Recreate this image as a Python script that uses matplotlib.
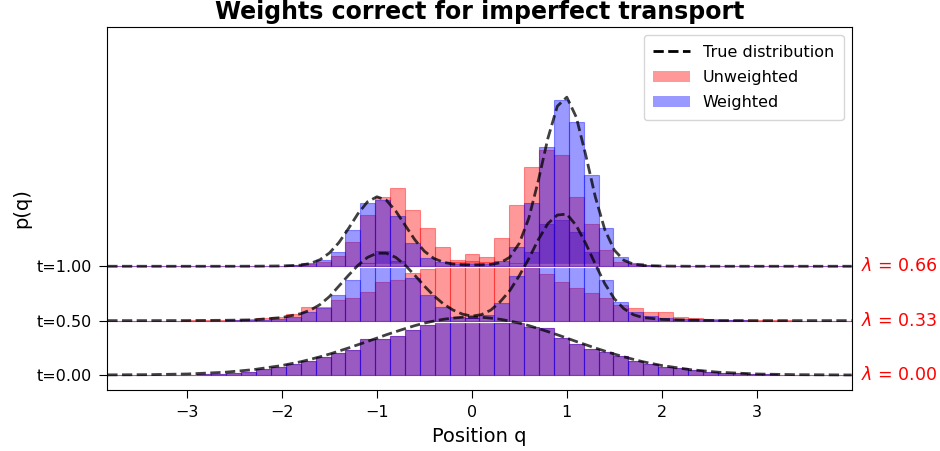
import numpy as np
import matplotlib
matplotlib.use("Agg")
import matplotlib.pyplot as plt
from matplotlib.lines import Line2D
from matplotlib.patches import Patch
from matplotlib.transforms import blended_transform_factory

# rows (offset on the y axis) and the lambda of each row
times = [0.0, 0.5, 1.0]
lambdas = [0.00, 0.33, 0.66]

# histogram bins shared by all rows
bin_lo, bin_hi, n_bins = -3.84, 4.0, 50

# bar heights, one value per bin
unweighted_t0 = [0.0005, 0.001, 0.0014, 0.0018, 0.003, 0.004, 0.006, 0.009, 0.016, 0.030,
                 0.051, 0.076, 0.104, 0.129, 0.161, 0.198, 0.230, 0.331, 0.331, 0.363,
                 0.414, 0.460, 0.488, 0.506, 0.524, 0.515, 0.481, 0.476, 0.439, 0.432,
                 0.338, 0.281, 0.236, 0.214, 0.175, 0.129, 0.097, 0.074, 0.063, 0.044,
                 0.030, 0.021, 0.016, 0.009, 0.006, 0.004, 0.002, 0.0014, 0.001, 0.0005]
weighted_t0 = list(unweighted_t0)

unweighted_t05 = [0, 0, 0, 0.0005, 0.001, 0.002, 0.003, 0.005, 0.009, 0.016,
                  0.026, 0.037, 0.060, 0.123, 0.123, 0.190, 0.212, 0.267, 0.359, 0.374,
                  0.442, 0.478, 0.497, 0.543, 0.552, 0.543, 0.497, 0.534, 0.488, 0.432,
                  0.359, 0.304, 0.258, 0.206, 0.144, 0.114, 0.080, 0.075, 0.034, 0.028,
                  0.014, 0.009, 0.006, 0.005, 0.003, 0.002, 0.001, 0.0005, 0, 0]
weighted_t05 = [0, 0, 0, 0, 0, 0, 0.0005, 0.001, 0.002, 0.005,
                0.009, 0.018, 0.032, 0.083, 0.114, 0.236, 0.374, 0.534, 0.644, 0.552,
                0.396, 0.239, 0.129, 0.037, 0.022, 0.052, 0.160, 0.414, 0.635, 0.892,
                0.929, 0.819, 0.635, 0.374, 0.175, 0.078, 0.046, 0.028, 0.018, 0.011,
                0.006, 0.003, 0.002, 0.001, 0, 0, 0, 0, 0, 0]

unweighted_t1 = [0, 0, 0, 0, 0, 0, 0, 0, 0, 0.001,
                 0.002, 0.004, 0.007, 0.018, 0.042, 0.092, 0.226, 0.469, 0.640, 0.718,
                 0.518, 0.352, 0.180, 0.060, 0.110, 0.086, 0.262, 0.564, 0.916, 1.070,
                 1.024, 0.640, 0.386, 0.150, 0.042, 0.018, 0.007, 0.004, 0.002, 0.001,
                 0, 0, 0, 0, 0, 0, 0, 0, 0, 0]
weighted_t1 = [0, 0, 0, 0, 0, 0, 0, 0, 0, 0,
               0.003, 0.006, 0.011, 0.028, 0.058, 0.129, 0.334, 0.580, 0.607, 0.460,
               0.212, 0.074, 0.042, 0.018, 0.018, 0.023, 0.046, 0.180, 0.580, 1.100,
               1.530, 1.330, 0.840, 0.350, 0.088, 0.028, 0.009, 0.005, 0.002, 0,
               0, 0, 0, 0, 0, 0, 0, 0, 0, 0]

# true distribution, read at these positions
q_true = [-3.84, -3.4, -3.0, -2.6, -2.3, -2.0, -1.8, -1.7, -1.6, -1.5, -1.4, -1.3, -1.2,
          -1.1, -1.0, -0.9, -0.8, -0.7, -0.6, -0.5, -0.4, -0.3, -0.2, -0.1, 0.0, 0.1,
          0.2, 0.3, 0.4, 0.5, 0.6, 0.7, 0.8, 0.9, 1.0, 1.1, 1.2, 1.3, 1.4, 1.5, 1.6,
          1.7, 1.8, 2.0, 2.3, 2.6, 3.0, 3.4, 4.0]
true_t0 = [0.001, 0.003, 0.009, 0.025, 0.049, 0.087, 0.122, 0.144, 0.167, 0.192, 0.220, 0.248, 0.278,
           0.308, 0.339, 0.370, 0.399, 0.427, 0.454, 0.477, 0.496, 0.512, 0.523, 0.531, 0.534, 0.531,
           0.523, 0.512, 0.496, 0.477, 0.454, 0.427, 0.399, 0.370, 0.339, 0.308, 0.278, 0.248, 0.220,
           0.192, 0.167, 0.144, 0.122, 0.087, 0.049, 0.025, 0.009, 0.003, 0.000]
true_t05 = [0.0, 0.0, 0.0005, 0.003, 0.007, 0.028, 0.064, 0.097, 0.147, 0.221, 0.318, 0.416, 0.508,
            0.581, 0.620, 0.620, 0.581, 0.508, 0.416, 0.318, 0.228, 0.154, 0.098, 0.060, 0.041, 0.055,
            0.097, 0.175, 0.276, 0.414, 0.570, 0.745, 0.892, 0.971, 0.980, 0.874, 0.708, 0.520, 0.340,
            0.202, 0.110, 0.055, 0.028, 0.011, 0.004, 0.001, 0.0, 0.0, 0.0]
true_t1 = [0, 0, 0, 0, 0.0005, 0.003, 0.010, 0.026, 0.060, 0.122, 0.218, 0.346, 0.483,
           0.592, 0.639, 0.607, 0.506, 0.374, 0.243, 0.138, 0.072, 0.037, 0.020, 0.014, 0.012, 0.013,
           0.017, 0.032, 0.083, 0.212, 0.442, 0.787, 1.174, 1.472, 1.555, 1.371, 1.021, 0.639, 0.337,
           0.149, 0.055, 0.020, 0.007, 0.002, 0, 0, 0, 0, 0]

unweighted = [unweighted_t0, unweighted_t05, unweighted_t1]
weighted = [weighted_t0, weighted_t05, weighted_t1]
true_curves = [true_t0, true_t05, true_t1]

edges = np.linspace(bin_lo, bin_hi, n_bins + 1)
centers = (edges[:-1] + edges[1:]) / 2
width = edges[1] - edges[0]

fig, ax = plt.subplots(figsize=(9.4, 4.51), dpi=100)
fig.subplots_adjust(left=0.1141, right=0.906, bottom=0.1353, top=0.940)

for t, unw, w, true in zip(times, unweighted, weighted, true_curves):
    if t > 0:
        # white strip separating the rows
        ax.axhline(t, color="white", lw=3, zorder=1)
    ax.bar(centers, unw, width=width, bottom=t, color="red", alpha=0.4,
           edgecolor="red", linewidth=0.8, zorder=1)
    ax.bar(centers, w, width=width, bottom=t, color="blue", alpha=0.4,
           edgecolor="blue", linewidth=0.8, zorder=1)
    ax.plot(q_true, t + np.array(true), color="k", ls="--", lw=2, alpha=0.75, zorder=3)

trans = blended_transform_factory(ax.transAxes, ax.transData)
for t, lam in zip(times, lambdas):
    ax.text(1.013, t, r"$\lambda$ = %.2f" % lam, transform=trans, color="red",
            va="center", ha="left", fontsize=12.5)

ax.set_xlim(bin_lo, bin_hi)
ax.set_ylim(-0.138, 3.2)
ax.set_xticks([-3, -2, -1, 0, 1, 2, 3])
ax.set_yticks(times)
ax.set_yticklabels(["t=%.2f" % t for t in times])
ax.tick_params(labelsize=11.5, length=5.5, pad=5.5)
ax.set_xlabel("Position q", fontsize=14, labelpad=5)
ax.set_ylabel("p(q)", fontsize=14, labelpad=4)
ax.set_title("Weights correct for imperfect transport", fontsize=17, fontweight="bold")

handles = [Line2D([0], [0], color="k", ls="--", lw=2),
           Patch(facecolor="red", alpha=0.4),
           Patch(facecolor="blue", alpha=0.4)]
ax.legend(handles, ["True distribution", "Unweighted", "Weighted"],
          loc="upper right", fontsize=11.5, labelspacing=0.65, borderpad=0.6,
          handlelength=2.3)

fig.savefig("out.png", dpi=100)
